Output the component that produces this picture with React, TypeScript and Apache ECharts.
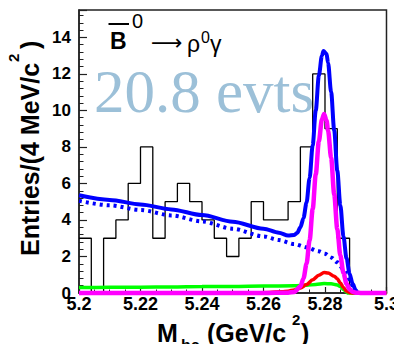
import React, { useEffect, useRef } from 'react';
import * as echarts from 'echarts';

// Histogram: entries per 4 MeV/c^2 bin, starting at 5.2 GeV/c^2
const binStart = 5.2;
const binWidth = 0.004;
const binCounts = [3, 0, 3, 4, 6, 8, 3, 5, 6, 5, 4, 3, 2, 3, 5, 4, 4, 5, 8, 12, 9, 3, 0, 0, 0];

// Fit curves: [Mbc, entries]
const totalFit: number[][] = [
  [5.2, 5.35], [5.21, 5.1], [5.22, 4.85], [5.23, 4.58], [5.24, 4.27], [5.25, 3.9], [5.26, 3.52],
  [5.265, 3.3], [5.268, 3.15], [5.27, 3.18], [5.271, 3.3], [5.272, 3.6], [5.273, 4.1], [5.274, 4.95],
  [5.275, 6.3], [5.276, 8.1], [5.277, 10.0], [5.278, 11.9], [5.279, 13.0], [5.2795, 13.25],
  [5.2805, 13.1], [5.281, 12.6], [5.282, 11.0], [5.283, 8.9], [5.284, 6.7], [5.285, 4.8],
  [5.286, 3.1], [5.287, 1.9], [5.288, 1.05], [5.289, 0.5], [5.29, 0.15], [5.2905, 0.03], [5.291, 0],
];
const continuumBkg: number[][] = [
  [5.2, 5.05], [5.21, 4.8], [5.22, 4.55], [5.23, 4.25], [5.24, 3.92], [5.25, 3.52], [5.26, 3.1],
  [5.265, 2.9], [5.27, 2.68], [5.274, 2.5], [5.278, 2.28], [5.28, 2.15], [5.282, 1.95],
  [5.284, 1.68], [5.286, 1.3], [5.287, 1.05], [5.288, 0.72], [5.289, 0.4], [5.29, 0.12], [5.2905, 0],
];
const signal: number[][] = [
  [5.2, 0], [5.26, 0], [5.268, 0.02], [5.27, 0.06], [5.272, 0.35], [5.273, 0.8], [5.274, 1.6],
  [5.275, 2.9], [5.276, 4.6], [5.277, 6.5], [5.278, 8.3], [5.279, 9.5], [5.2797, 9.8],
  [5.2805, 9.45], [5.281, 8.9], [5.282, 7.4], [5.283, 5.4], [5.284, 3.5], [5.285, 2.05],
  [5.286, 1.1], [5.287, 0.5], [5.288, 0.2], [5.289, 0.07], [5.29, 0.02], [5.292, 0], [5.3, 0],
];
const peakingBkg: number[][] = [
  [5.2, 0], [5.255, 0], [5.262, 0.03], [5.266, 0.07], [5.268, 0.1], [5.27, 0.17], [5.272, 0.28],
  [5.274, 0.46], [5.276, 0.72], [5.278, 0.97], [5.2797, 1.12], [5.281, 1.1], [5.283, 0.92],
  [5.284, 0.78], [5.285, 0.55], [5.286, 0.3], [5.287, 0.1], [5.288, 0.02], [5.289, 0], [5.3, 0],
];
const otherBkg: number[][] = [
  [5.2, 0.3], [5.21, 0.31], [5.22, 0.32], [5.23, 0.33], [5.24, 0.35], [5.25, 0.36], [5.26, 0.38],
  [5.27, 0.4], [5.274, 0.42], [5.277, 0.47], [5.2797, 0.52], [5.282, 0.5], [5.284, 0.44],
  [5.285, 0.36], [5.286, 0.2], [5.287, 0.05], [5.2875, 0], [5.3, 0],
];

const SANS = '"Liberation Sans", Arial, Helvetica, sans-serif';

function txt(text: string, x: number, y: number, font: string, fill = '#000', z = 100) {
  return {
    type: 'text', x, y, z, silent: true,
    style: { text, font, fill, align: 'left', verticalAlign: 'middle', textAlign: 'left', textVerticalAlign: 'middle' },
  };
}

export default function App() {
  const ref = useRef<HTMLDivElement>(null);
  useEffect(() => {
    if (!ref.current) return;
    const chart = echarts.init(ref.current, undefined, { renderer: 'svg' });

    const histData = binCounts.map((c, i) => [binStart + i * binWidth, c]);
    histData.push([binStart + binCounts.length * binWidth, 0]);

    const curve = (name: string, data: number[][], color: string, width: number, z: number, type: any = 'solid') => ({
      name, type: 'line', data, showSymbol: false, symbol: 'none', smooth: 0.3, smoothMonotone: 'x',
      clip: false, z, lineStyle: { color, width, type }, silent: true,
    });

    const option: any = {
      animation: false,
      grid: { left: 79, top: 10, right: 15, bottom: 59, show: true, borderColor: '#222', borderWidth: 1.5, backgroundColor: 'transparent' },
      xAxis: {
        type: 'value', min: 5.2, max: 5.3, interval: 0.02,
        axisLine: { show: true, lineStyle: { color: '#222', width: 1.5 } },
        axisTick: { show: true, inside: true, length: 6, lineStyle: { color: '#222', width: 1.2 } },
        minorTick: { show: true, splitNumber: 4, length: 3.5, lineStyle: { color: '#222', width: 1 } },
        splitLine: { show: false },
        axisLabel: {
          color: '#000', fontSize: 18, fontWeight: 'bold', fontFamily: SANS, margin: 2,
          formatter: (v: number) => String(parseFloat(v.toFixed(3))),
        },
      },
      yAxis: {
        type: 'value', min: 0, max: 15.5, interval: 2,
        axisLine: { show: true, lineStyle: { color: '#222', width: 1.5 } },
        axisTick: { show: true, inside: true, length: 8, lineStyle: { color: '#222', width: 1.2 } },
        minorTick: { show: true, splitNumber: 5, length: 4.5, lineStyle: { color: '#222', width: 1 } },
        splitLine: { show: false },
        axisLabel: {
          color: '#000', fontSize: 17, fontWeight: 'bold', fontFamily: SANS, margin: 8,
          formatter: (v: number) => (Math.abs(v % 2) < 1e-9 ? String(v) : ''),
        },
      },
      series: [
        {
          name: 'data', type: 'line', data: histData, step: 'end', showSymbol: false, symbol: 'none',
          z: 2, lineStyle: { color: '#000', width: 1.3 }, silent: true,
        },
        curve('continuum', continuumBkg, '#0000ff', 4, 3, [3, 4]),
        curve('other', otherBkg, '#00ff00', 3.5, 4),
        curve('peaking', peakingBkg, '#ff0000', 3.5, 5),
        curve('total', totalFit, '#0000ff', 4, 6),
        curve('signal', signal, '#ff00ff', 4.5, 7),
      ],
      graphic: [
        txt('20.8 evts', 94, 91, '61px "Liberation Serif", "Times New Roman", serif', '#9cc0d8', 1),
        txt('B', 110, 41, `bold 23px ${SANS}`),
        { type: 'line', z: 100, silent: true, shape: { x1: 108.5, y1: 24, x2: 129, y2: 24 }, style: { stroke: '#000', lineWidth: 2 } },
        txt('0', 132, 21, `20px ${SANS}`),
        txt('⟶', 151, 42, '22px "DejaVu Sans", sans-serif'),
        txt('ρ', 187, 44, `23px ${SANS}`),
        txt('0', 201, 37.5, `16px ${SANS}`),
        txt('γ', 210, 44, `23px ${SANS}`),
        // x axis title
        txt('M', 157, 332.5, `bold 25px ${SANS}`),
        txt('bc', 181, 345, `bold 16px ${SANS}`),
        txt('(GeV/c', 207, 332.5, `bold 25px ${SANS}`),
        txt('2', 292, 319, `bold 15px ${SANS}`),
        txt(')', 301, 332.5, `bold 25px ${SANS}`),
        // y axis title
        {
          type: 'group', x: 30, y: 256, rotation: Math.PI / 2, silent: true,
          children: [
            txt('Entries/(4 MeV/c', 0, 0, `bold 25px ${SANS}`),
            txt('2', 194, -17, `bold 15px ${SANS}`),
            txt(')', 207, 0, `bold 25px ${SANS}`),
          ],
        },
      ],
    };
    chart.setOption(option);
    return () => chart.dispose();
  }, []);
  return <div ref={ref} style={{ width: 402, height: 352, margin: -8, background: '#fff' }} />;
}
